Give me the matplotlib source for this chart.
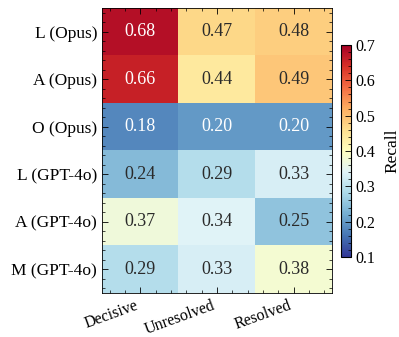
import matplotlib
matplotlib.use("Agg")
import matplotlib.pyplot as plt
import numpy as np
from matplotlib.ticker import MultipleLocator

rows = ["L (Opus)", "A (Opus)", "O (Opus)", "L (GPT-4o)", "A (GPT-4o)", "M (GPT-4o)"]
cols = ["Decisive", "Unresolved", "Resolved"]
recall = [
    [0.68, 0.47, 0.48],
    [0.66, 0.44, 0.49],
    [0.18, 0.20, 0.20],
    [0.24, 0.29, 0.33],
    [0.37, 0.34, 0.25],
    [0.29, 0.33, 0.38],
]

plt.rcParams['font.family'] = ['Liberation Serif', 'DejaVu Serif']

fig = plt.figure(figsize=(3.99, 3.37), dpi=100)
ax = fig.add_axes([102/399, 1-293/337, 230/399, 285/337])
cax = fig.add_axes([341/399, 1-257/337, 10/399, 212/337])

data = np.array(recall)
cmap = plt.get_cmap('RdYlBu_r')
im = ax.imshow(data, cmap=cmap, vmin=0.1, vmax=0.7, aspect='auto')
for i in range(data.shape[0]):
    for j in range(data.shape[1]):
        v = data[i, j]
        color = 'white' if (v >= 0.6 or v <= 0.2) else '#2a2a2a'
        ax.text(j, i, f"{v:.2f}", ha='center', va='center', fontsize=13, color=color)

ax.set_xticks(range(len(cols)))
ax.set_xticklabels(cols, rotation=20, ha='right', fontsize=11.5)
ax.set_yticks(range(len(rows)))
ax.set_yticklabels(rows, fontsize=12.5)
ax.xaxis.set_minor_locator(MultipleLocator(0.2))
ax.yaxis.set_minor_locator(MultipleLocator(0.2))
ax.tick_params(which='both', direction='in', top=True, right=True)
ax.tick_params(which='major', length=4, width=0.6)
ax.tick_params(which='minor', length=2, width=0.5)
ax.tick_params(axis='x', pad=3)
for s in ax.spines.values():
    s.set_linewidth(0.6)

cb = fig.colorbar(im, cax=cax)
cb.set_ticks([0.1, 0.2, 0.3, 0.4, 0.5, 0.6, 0.7])
cb.ax.yaxis.set_minor_locator(MultipleLocator(0.02))
cb.ax.tick_params(which='both', direction='in', labelsize=11.5)
cb.ax.tick_params(which='major', length=4, width=0.6)
cb.ax.tick_params(which='minor', length=2, width=0.5)
cb.outline.set_linewidth(0.8)
cb.set_label('Recall', fontsize=12.5, labelpad=6)

fig.savefig('out.png', dpi=100)
